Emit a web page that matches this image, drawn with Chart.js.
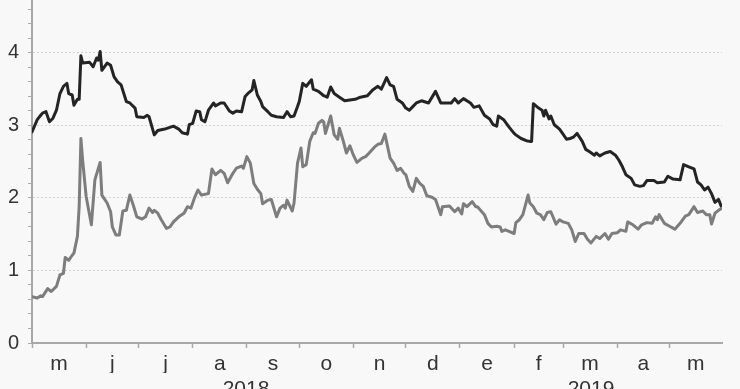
<!DOCTYPE html>
<html>
<head>
<meta charset="utf-8">
<script src="https://cdn.jsdelivr.net/npm/chart.js@4/dist/chart.umd.min.js"></script>
<style>
  html, body { margin: 0; padding: 0; background: #f8f8f8; overflow: hidden; }
  #wrap { width: 740px; height: 389px; overflow: hidden; }
</style>
</head>
<body>
<div id="wrap"><canvas id="chart" width="740" height="389"></canvas></div>
<script>
// days counted from 1 May 2018
const darkDays = [0, 3, 5, 6, 8, 10, 12, 14, 16, 18, 20, 21, 23, 24, 26, 27, 28, 29, 33, 35, 37, 38, 39, 40, 43, 45, 47, 49, 51, 54, 56, 59, 60, 64, 66, 67, 70, 72, 76, 81, 84, 86, 89, 90, 92, 94, 96, 97, 99, 101, 104, 105, 108, 110, 113, 115, 117, 120, 122, 124, 126, 127, 129, 131, 132, 135, 137, 140, 144, 146, 148, 150, 152, 153, 155, 157, 160, 161, 164, 167, 169, 171, 173, 176, 179, 182, 185, 188, 192, 195, 198, 200, 203, 205, 207, 209, 212, 214, 216, 218, 220, 223, 227, 231, 234, 237, 240, 242, 244, 247, 251, 253, 256, 259, 262, 264, 266, 267, 270, 273, 276, 277, 280, 283, 285, 286, 287, 290, 292, 293, 294, 296, 297, 299, 302, 304, 306, 308, 310, 312, 315, 317, 319, 322, 323, 325, 328, 331, 334, 336, 338, 340, 343, 345, 348, 350, 352, 356, 358, 362, 364, 367, 371, 373, 376, 379, 381, 383, 385, 387, 389, 391, 393, 395];
const darkValues = [2.91, 3.08, 3.14, 3.17, 3.19, 3.05, 3.10, 3.21, 3.44, 3.54, 3.58, 3.44, 3.42, 3.28, 3.36, 3.36, 3.96, 3.86, 3.87, 3.81, 3.93, 3.90, 4.02, 3.76, 3.86, 3.83, 3.67, 3.60, 3.56, 3.33, 3.31, 3.24, 3.12, 3.11, 3.14, 3.12, 2.87, 2.93, 2.95, 2.99, 2.95, 2.90, 2.88, 3.01, 3.03, 3.20, 3.19, 3.08, 3.05, 3.21, 3.31, 3.27, 3.31, 3.31, 3.20, 3.17, 3.20, 3.19, 3.40, 3.45, 3.49, 3.62, 3.42, 3.33, 3.26, 3.19, 3.14, 3.12, 3.11, 3.19, 3.12, 3.13, 3.26, 3.33, 3.58, 3.54, 3.63, 3.50, 3.47, 3.41, 3.39, 3.53, 3.44, 3.39, 3.34, 3.35, 3.36, 3.39, 3.41, 3.49, 3.54, 3.50, 3.66, 3.56, 3.54, 3.36, 3.31, 3.24, 3.21, 3.26, 3.31, 3.34, 3.31, 3.47, 3.31, 3.31, 3.31, 3.37, 3.31, 3.37, 3.31, 3.25, 3.27, 3.14, 3.09, 3.01, 2.99, 3.13, 3.08, 2.98, 2.89, 2.87, 2.82, 2.79, 2.78, 2.78, 3.30, 3.24, 3.21, 3.13, 3.21, 3.09, 3.13, 3.01, 2.95, 2.88, 2.81, 2.82, 2.84, 2.89, 2.78, 2.67, 2.64, 2.59, 2.62, 2.58, 2.62, 2.64, 2.59, 2.52, 2.43, 2.32, 2.27, 2.18, 2.16, 2.17, 2.24, 2.24, 2.21, 2.22, 2.30, 2.26, 2.25, 2.46, 2.43, 2.40, 2.22, 2.18, 2.11, 2.15, 2.06, 1.94, 1.98, 1.86];

const grayDays = [0, 3, 5, 6, 9, 11, 14, 16, 18, 19, 21, 23, 24, 26, 27, 28, 29, 31, 34, 36, 39, 40, 43, 45, 46, 48, 50, 52, 54, 56, 58, 60, 63, 65, 67, 69, 70, 72, 74, 77, 79, 81, 84, 87, 89, 91, 93, 95, 97, 101, 103, 105, 108, 110, 112, 115, 117, 120, 121, 123, 125, 127, 129, 131, 132, 135, 137, 138, 140, 142, 144, 145, 146, 149, 150, 152, 154, 155, 157, 159, 161, 162, 164, 166, 167, 168, 171, 173, 175, 176, 178, 180, 182, 184, 186, 189, 191, 193, 196, 198, 200, 202, 204, 205, 207, 209, 211, 213, 214, 216, 218, 220, 222, 224, 226, 229, 231, 234, 235, 239, 242, 244, 246, 247, 249, 252, 254, 255, 259, 261, 263, 266, 268, 269, 271, 273, 276, 277, 279, 281, 284, 285, 287, 289, 291, 293, 295, 297, 300, 302, 304, 307, 309, 311, 313, 316, 318, 320, 323, 325, 328, 330, 332, 335, 337, 340, 341, 344, 347, 349, 352, 355, 357, 358, 359, 362, 365, 368, 371, 374, 376, 379, 381, 384, 386, 388, 389, 391, 393, 395];
const grayValues = [0.64, 0.62, 0.65, 0.64, 0.75, 0.71, 0.78, 0.94, 0.96, 1.18, 1.14, 1.21, 1.24, 1.47, 1.88, 2.82, 2.52, 2.02, 1.63, 2.25, 2.49, 2.04, 1.93, 1.81, 1.60, 1.49, 1.49, 1.82, 1.83, 2.04, 1.90, 1.74, 1.71, 1.74, 1.86, 1.80, 1.83, 1.79, 1.70, 1.58, 1.60, 1.67, 1.74, 1.79, 1.88, 1.86, 2.00, 2.11, 2.04, 2.06, 2.40, 2.32, 2.38, 2.34, 2.21, 2.34, 2.41, 2.44, 2.41, 2.57, 2.48, 2.20, 2.12, 2.06, 1.92, 1.97, 1.98, 1.90, 1.74, 1.86, 1.90, 1.86, 1.97, 1.82, 1.93, 2.48, 2.69, 2.43, 2.46, 2.78, 2.90, 2.89, 3.03, 3.07, 3.05, 2.89, 3.13, 2.87, 2.81, 2.96, 2.80, 2.62, 2.72, 2.59, 2.49, 2.55, 2.57, 2.62, 2.70, 2.74, 2.75, 2.88, 2.66, 2.55, 2.48, 2.38, 2.41, 2.34, 2.32, 2.16, 2.09, 2.27, 2.20, 2.16, 2.03, 2.01, 1.98, 1.77, 1.88, 1.89, 1.81, 1.86, 1.78, 1.92, 1.88, 1.95, 1.88, 1.88, 1.77, 1.65, 1.60, 1.61, 1.60, 1.54, 1.56, 1.54, 1.51, 1.66, 1.70, 1.77, 2.04, 1.93, 1.88, 1.79, 1.77, 1.70, 1.80, 1.81, 1.64, 1.70, 1.67, 1.65, 1.56, 1.40, 1.51, 1.51, 1.43, 1.38, 1.47, 1.44, 1.51, 1.43, 1.51, 1.52, 1.56, 1.54, 1.67, 1.63, 1.57, 1.63, 1.66, 1.65, 1.74, 1.70, 1.77, 1.65, 1.61, 1.57, 1.65, 1.75, 1.77, 1.88, 1.80, 1.82, 1.77, 1.77, 1.64, 1.79, 1.83, 1.86];

// month boundaries (1st of each month) and the month letters between them
const monthStarts = [0, 31, 61, 92, 123, 153, 184, 214, 245, 276, 304, 335, 365];
const monthLabels = ["m", "j", "j", "a", "s", "o", "n", "d", "e", "f", "m", "a", "m"];
const monthEnd = 395;
const yearLabels = ["2018", "2019"];
const yearMids = [122.5, 320];
const yTickLabels = ["0", "1", "2", "3", "4"];

const labelFont = { family: "'Liberation Sans', Arial, sans-serif", size: 21 };
const xMin = 0, xMax = monthEnd, yMax = 4.73;

function monthMids() {
    const ends = monthStarts.slice(1).concat([monthEnd]);
    return monthStarts.map((s, i) => (s + ends[i]) / 2);
}

function toPoints(days, values) {
    return days.map((d, i) => ({ x: d, y: values[i] }));
}

const lineStyle = { borderWidth: 3, pointRadius: 0, tension: 0, borderJoinStyle: "round", borderCapStyle: "round" };

const ctx = document.getElementById("chart").getContext("2d");
new Chart(ctx, {
    type: "line",
    data: {
        datasets: [
            Object.assign({ data: toPoints(grayDays, grayValues), borderColor: "#7d7d7d" }, lineStyle),
            Object.assign({ data: toPoints(darkDays, darkValues), borderColor: "#242424" }, lineStyle)
        ]
    },
    options: {
        responsive: false,
        animation: false,
        devicePixelRatio: 1,
        layout: { padding: { left: 0, top: 0, bottom: 0, right: 18 } },
        plugins: { legend: { display: false }, tooltip: { enabled: false } },
        scales: {
            x: {
                type: "linear", min: xMin, max: xMax, position: "bottom",
                afterBuildTicks: s => { s.ticks = monthStarts.map(v => ({ value: v })); },
                afterFit: s => { s.height = 6; },
                ticks: { display: false, autoSkip: false },
                grid: { drawOnChartArea: false, drawTicks: true, tickLength: 5, tickColor: "#a8a8a8", tickWidth: 1.5 },
                border: { color: "#a8a8a8", width: 2 }
            },
            xm: {
                type: "linear", min: xMin, max: xMax, position: "bottom",
                afterBuildTicks: s => { s.ticks = monthMids().map(v => ({ value: v })); },
                afterFit: s => { s.height = 24; },
                ticks: { autoSkip: false, maxRotation: 0, padding: 3, color: "#333", font: labelFont,
                         callback: (v, i) => monthLabels[i] },
                grid: { display: false, drawTicks: false },
                border: { display: false }
            },
            xy: {
                type: "linear", min: xMin, max: xMax, position: "bottom",
                afterBuildTicks: s => { s.ticks = yearMids.map(v => ({ value: v })); },
                afterFit: s => { s.height = 16; },
                ticks: { autoSkip: false, maxRotation: 0, padding: 4, color: "#333", font: labelFont,
                         callback: (v, i) => yearLabels[i] },
                grid: { display: false, drawTicks: false },
                border: { display: false }
            },
            y: {
                type: "linear", min: 0, max: yMax,
                afterBuildTicks: s => {
                    const t = [];
                    for (let i = 0; i <= 23; i++) t.push({ value: i / 5 });
                    s.ticks = t;
                },
                afterFit: s => { s.width = 32; s.paddingTop = 0; s.paddingBottom = 0; },
                ticks: {
                    autoSkip: false, padding: 9, color: "#333", font: { family: labelFont.family, size: 20 },
                    callback: v => {
                        const r = Math.round(v * 5);
                        return r % 5 === 0 ? yTickLabels[r / 5] : "";
                    }
                },
                grid: {
                    tickLength: 4, tickColor: "#a8a8a8", tickWidth: 1,
                    color: c => (c.tick && c.tick.value > 0 && Math.round(c.tick.value * 5) % 5 === 0) ? "#d4d4d4" : "rgba(0,0,0,0)",
                    lineWidth: 1
                },
                border: { color: "#a8a8a8", width: 2, dash: [2, 2] }
            }
        }
    }
});
</script>
</body>
</html>
